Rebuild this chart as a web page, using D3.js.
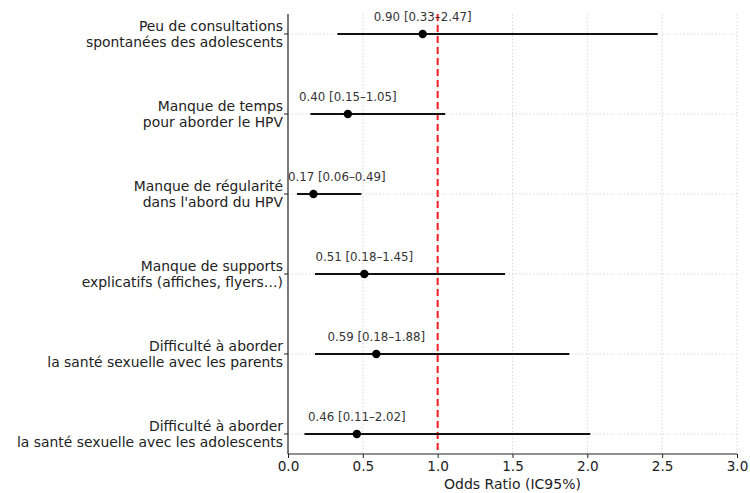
<!DOCTYPE html>
<html>
<head>
<meta charset="utf-8">
<script src="https://cdn.jsdelivr.net/npm/d3@7"></script>
<style>
  html, body { margin: 0; padding: 0; background: #fff; }
  svg { display: block; font-family: "DejaVu Sans", sans-serif; }
</style>
</head>
<body>
<svg id="chart" width="750" height="493"></svg>
<script>
// Forest plot: odds ratios with 95% confidence intervals
const categories = [
  "Peu de consultations\nspontanées des adolescents",
  "Manque de temps\npour aborder le HPV",
  "Manque de régularité\ndans l'abord du HPV",
  "Manque de supports\nexplicatifs (affiches, flyers…)",
  "Difficulté à aborder\nla santé sexuelle avec les parents",
  "Difficulté à aborder\nla santé sexuelle avec les adolescents"
];
const oddsRatio = [0.90, 0.40, 0.17, 0.51, 0.59, 0.46];
const ciLow     = [0.33, 0.15, 0.06, 0.18, 0.18, 0.11];
const ciHigh    = [2.47, 1.05, 0.49, 1.45, 1.88, 2.02];
const xTicks    = [0, 0.5, 1.0, 1.5, 2.0, 2.5, 3.0];
const refValue  = 1.0;
const xLabel    = "Odds Ratio (IC95%)";

const svg = d3.select("#chart");
const plotL = 288, plotR = 737, plotT = 14, plotB = 454;

const x = d3.scaleLinear().domain([0, 3]).range([plotL, plotR]);
// rows from top to bottom, with matplotlib-like 5% margins
const y = d3.scaleLinear().domain([-0.25, categories.length - 0.75]).range([plotT, plotB]);

const fmt = d3.format(".2f");

// grid
const grid = svg.append("g").attr("stroke", "#cfcfcf").attr("stroke-width", 0.8)
  .attr("stroke-dasharray", "1.5,2");
grid.selectAll("line.vx").data(xTicks.slice(1)).join("line")
  .attr("x1", d => x(d)).attr("x2", d => x(d))
  .attr("y1", plotT).attr("y2", plotB);
grid.selectAll("line.hy").data(categories).join("line")
  .attr("x1", plotL).attr("x2", plotR)
  .attr("y1", (d, i) => y(i)).attr("y2", (d, i) => y(i));

// reference line at OR = 1
svg.append("line")
  .attr("x1", x(refValue)).attr("x2", x(refValue))
  .attr("y1", plotT).attr("y2", plotB)
  .attr("stroke", "#f02020").attr("stroke-width", 2)
  .attr("stroke-dasharray", "7,4");

// confidence intervals
svg.append("g").selectAll("line").data(categories).join("line")
  .attr("x1", (d, i) => x(ciLow[i])).attr("x2", (d, i) => x(ciHigh[i]))
  .attr("y1", (d, i) => y(i)).attr("y2", (d, i) => y(i))
  .attr("stroke", "#111").attr("stroke-width", 2);

// point estimates
svg.append("g").selectAll("circle").data(categories).join("circle")
  .attr("cx", (d, i) => x(oddsRatio[i])).attr("cy", (d, i) => y(i))
  .attr("r", 4.2).attr("fill", "#000");

// value labels above each estimate, kept inside the axes
const vl = svg.append("g").selectAll("text").data(categories).join("text")
  .attr("y", (d, i) => y(i) - 13)
  .attr("font-size", 11.8).attr("fill", "#333")
  .attr("text-anchor", "middle")
  .text((d, i) => `${fmt(oddsRatio[i])} [${fmt(ciLow[i])}–${fmt(ciHigh[i])}]`);
vl.each(function(d, i) {
  const w = this.getComputedTextLength();
  const cx = Math.max(x(oddsRatio[i]), plotL + w / 2);
  d3.select(this).attr("x", cx);
});

// axes
const xAxis = d3.axisBottom(x).tickValues(xTicks).tickFormat(d3.format(".1f")).tickSize(4).tickPadding(3);
const gx = svg.append("g").attr("transform", `translate(0,${plotB})`).call(xAxis);
gx.select(".domain").attr("stroke", "#222").attr("stroke-width", 1.2).attr("d", `M${plotL},0H${plotR}`);
gx.selectAll(".tick line").attr("stroke", "#222");
gx.selectAll(".tick text").attr("font-size", 13.6).attr("fill", "#222")
  .attr("font-family", "DejaVu Sans, sans-serif");

const gy = svg.append("g").attr("transform", `translate(${plotL},0)`);
gy.append("line").attr("x1", 0).attr("x2", 0).attr("y1", plotT).attr("y2", plotB)
  .attr("stroke", "#222").attr("stroke-width", 1.2);
gy.selectAll("line.tk").data(categories).join("line")
  .attr("x1", -4).attr("x2", 0)
  .attr("y1", (d, i) => y(i)).attr("y2", (d, i) => y(i))
  .attr("stroke", "#222");
const yl = gy.selectAll("text").data(categories).join("text")
  .attr("text-anchor", "end").attr("font-size", 13.9).attr("fill", "#222");
yl.each(function(d, i) {
  const lines = d.split("\n");
  const t = d3.select(this);
  lines.forEach((ln, k) => {
    t.append("tspan").attr("x", -5)
      .attr("y", y(i) + (k - (lines.length - 1) / 2) * 16.5 + 5)
      .text(ln);
  });
});

svg.append("text")
  .attr("x", (plotL + plotR) / 2).attr("y", 489)
  .attr("text-anchor", "middle").attr("font-size", 14).attr("fill", "#222")
  .text(xLabel);
</script>
</body>
</html>
